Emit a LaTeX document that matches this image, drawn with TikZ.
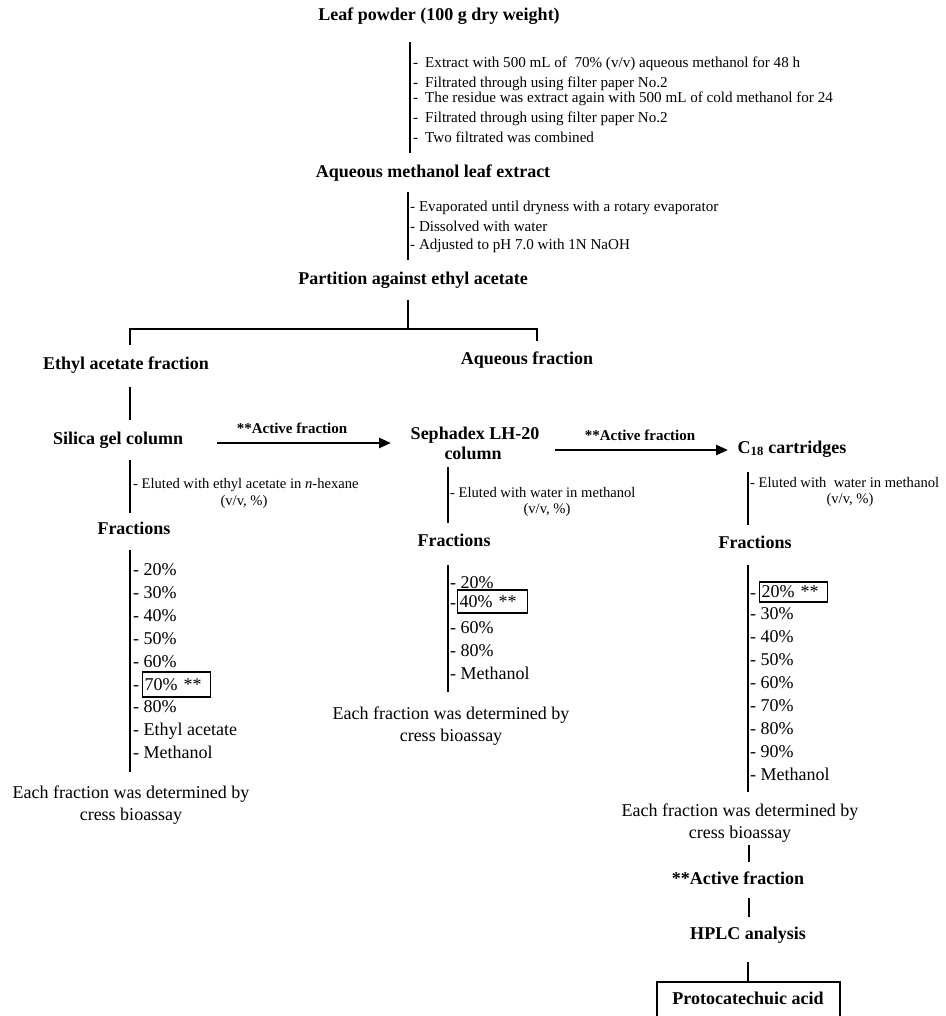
\documentclass[tikz,border=0pt]{standalone}
\usepackage{fontspec}
\setmainfont{Liberation Serif}
\usetikzlibrary{arrows.meta}
\begin{document}
\begin{tikzpicture}[x=1pt,y=-1pt,
 head/.style={font=\fontsize{18}{20}\selectfont\bfseries, inner sep=0pt, anchor=base},
 lab/.style={font=\fontsize{15}{18}\selectfont\bfseries, inner sep=0pt, anchor=base},
 note/.style={font=\fontsize{14.6}{18}\selectfont, inner sep=0pt, anchor=base west},
 topnote/.style={font=\fontsize{15.1}{18}\selectfont, inner sep=0pt, anchor=base west},
 notec/.style={font=\fontsize{14.6}{18}\selectfont, inner sep=0pt, anchor=base},
 item/.style={font=\fontsize{18}{22}\selectfont, inner sep=0pt, anchor=base west},
 each/.style={font=\fontsize{18}{22}\selectfont, inner sep=0pt, align=center},
 hit/.style={draw, line width=1.3pt, font=\fontsize{18}{22}\selectfont, inner xsep=2pt, inner ysep=0pt, anchor=west, align=left},
 bar/.style={line width=2.6pt},
 arr/.style={line width=2.6pt, -{Triangle[length=12pt,width=10pt]}}
]
\useasboundingbox (0,0) rectangle (945,1016);

% ---- top ----
\node[head] (leaf) at (439,21) {Leaf powder (100 g dry weight)};
\coordinate (v1a) at (410,42); \coordinate (v1b) at (410,153);
\draw[bar] (v1a) -- (v1b);
\node[topnote] (n11) at (413,68) {-\hspace*{7pt}Extract with 500 mL of \ 70\% (v/v) aqueous methanol for 48 h};
\node[topnote] (n12) at (413,88) {-\hspace*{7pt}Filtrated through using filter paper No.2};
\node[topnote] (n13) at (413,103) {-\hspace*{7pt}The residue was extract again with 500 mL of cold methanol for 24};
\node[topnote] (n14) at (413,123) {-\hspace*{7pt}Filtrated through using filter paper No.2};
\node[topnote] (n15) at (413,143) {-\hspace*{7pt}Two filtrated was combined};

\node[head] (aq) at (433,178) {Aqueous methanol leaf extract};
\coordinate (v2a) at (408,192); \coordinate (v2b) at (408,260);
\draw[bar] (v2a) -- (v2b);
\node[topnote] (n21) at (410,212) {- Evaporated until dryness with a rotary evaporator};
\node[topnote] (n22) at (410,232) {- Dissolved with water};
\node[topnote] (n23) at (410,249) {- Adjusted to pH 7.0 with 1N NaOH};

\node[head] (part) at (413,284) {Partition against ethyl acetate};
\coordinate (bm) at (408,300); \coordinate (bmb) at (408,329);
\coordinate (bl) at (130,345); \coordinate (blt) at (130,329);
\coordinate (br) at (537,341); \coordinate (brt) at (537,329);
\draw[bar] (bm) -- (bmb);
\draw[bar] (bl) -- (blt) -- (brt) -- (br);

\node[head] (eth) at (126,369) {Ethyl acetate fraction};
\node[head] (aqf) at (527,364) {Aqueous fraction};
\coordinate (v3a) at (130,387); \coordinate (v3b) at (130,420);
\draw[bar] (v3a) -- (v3b);

% ---- column 1 ----
\node[head] (sil) at (118,444) {Silica gel column};
\coordinate (a1s) at (217,443); \coordinate (a1e) at (391,443);
\draw[arr] (a1s) -- (a1e);
\node[lab] (lab1) at (292,433) {**Active fraction};

\coordinate (v4a) at (130,460); \coordinate (v4b) at (130,513);
\draw[bar] (v4a) -- (v4b);
\node[note] (e1) at (133,488) {- Eluted with ethyl acetate in \textit{n}-hexane};
\node[notec] (e1b) at (244,505) {(v/v, \%)};
\node[head] (fr1) at (134,534) {Fractions};
\coordinate (v5a) at (130,550); \coordinate (v5b) at (130,772);
\draw[bar] (v5a) -- (v5b);
\node[item] (i11) at (133,575) {- 20\%};
\node[item] (i12) at (133,598) {- 30\%};
\node[item] (i13) at (133,621) {- 40\%};
\node[item] (i14) at (133,644) {- 50\%};
\node[item] (i15) at (133,667) {- 60\%};
\node[item] (i16) at (133,690) {-};
\node[hit, text width=64pt, minimum height=25pt] (h1) at (142,684.5) {70\% **};
\node[item] (i17) at (133,712) {- 80\%};
\node[item] (i18) at (133,735) {- Ethyl acetate};
\node[item] (i19) at (133,758) {- Methanol};
\node[each] (each1) at (131,805) {Each fraction was determined by\\cress bioassay};

% ---- column 2 ----
\node[head] (seph1) at (475,439) {Sephadex LH-20};
\node[head] (seph2) at (473,459) {column};
\coordinate (a2s) at (555,450); \coordinate (a2e) at (728,450);
\draw[arr] (a2s) -- (a2e);
\node[lab] (lab2) at (640,440) {**Active fraction};
\coordinate (v6a) at (448,467); \coordinate (v6b) at (448,523);
\draw[bar] (v6a) -- (v6b);
\node[note] (e2) at (450,497) {- Eluted with water in methanol};
\node[notec] (e2b) at (547,513) {(v/v, \%)};
\node[head] (fr2) at (454,546) {Fractions};
\coordinate (v7a) at (448,565); \coordinate (v7b) at (448,692);
\draw[bar] (v7a) -- (v7b);
\node[item] (i21) at (450,588) {- 20\%};
\node[item] (i22) at (450,608) {-};
\node[hit, text width=66pt, minimum height=23pt] (h2) at (457,601.5) {40\% **};
\node[item] (i23) at (450,633.5) {- 60\%};
\node[item] (i24) at (450,656) {- 80\%};
\node[item] (i25) at (450,679) {- Methanol};
\node[each] (each2) at (451,726) {Each fraction was determined by\\cress bioassay};

% ---- column 3 ----
\node[head] (c18) at (792,453) {C\textsubscript{18} cartridges};
\coordinate (v8a) at (748,472); \coordinate (v8b) at (748,525);
\draw[bar] (v8a) -- (v8b);
\node[note] (e3) at (750,487) {- Eluted with \ water in methanol};
\node[notec] (e3b) at (850,503) {(v/v, \%)};
\node[head] (fr3) at (755,548) {Fractions};
\coordinate (v9a) at (748,565); \coordinate (v9b) at (748,792);
\draw[bar] (v9a) -- (v9b);
\node[item] (i31) at (750,598) {-};
\node[hit, text width=64pt, minimum height=20pt] (h3) at (759,592) {20\% **};
\node[item] (i32) at (750,619) {- 30\%};
\node[item] (i33) at (750,642) {- 40\%};
\node[item] (i34) at (750,665) {- 50\%};
\node[item] (i35) at (750,688) {- 60\%};
\node[item] (i36) at (750,711) {- 70\%};
\node[item] (i37) at (750,734) {- 80\%};
\node[item] (i38) at (750,757) {- 90\%};
\node[item] (i39) at (750,780) {- Methanol};
\node[each] (each3) at (740,823) {Each fraction was determined by\\cress bioassay};

\coordinate (w1a) at (749,845); \coordinate (w1b) at (749,862);
\draw[bar] (w1a) -- (w1b);
\node[head] (act) at (738,884) {**Active fraction};
\coordinate (w2a) at (749,898); \coordinate (w2b) at (749,917);
\draw[bar] (w2a) -- (w2b);
\node[head] (hplc) at (748,939) {HPLC analysis};
\coordinate (w3a) at (748,962); \coordinate (w3b) at (748,982);
\draw[bar] (w3a) -- (w3b);
\node[head] (prot) at (748,1004) {Protocatechuic acid};
\coordinate (pbl) at (657,1016); \coordinate (ptl) at (657,982);
\coordinate (ptr) at (840,982); \coordinate (pbr) at (840,1016);
\draw[line width=2pt] (pbl) -- (ptl) -- (ptr) -- (pbr);
\end{tikzpicture}
\end{document}
